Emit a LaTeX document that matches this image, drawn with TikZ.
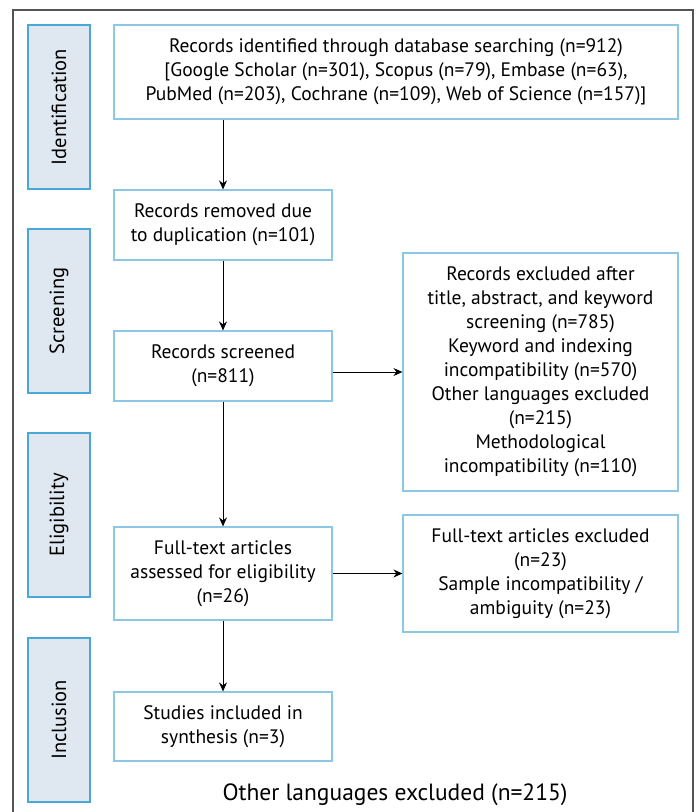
\documentclass[tikz,border=0pt]{standalone}
\usepackage{fontspec}
\setmainfont{PT Sans}
\usepackage{tikz}
\usetikzlibrary{arrows.meta}
\definecolor{stageblue}{HTML}{4AA8D8}
\definecolor{stagefill}{HTML}{DFE7F0}
\definecolor{boxblue}{HTML}{8CC8E4}
\definecolor{framegray}{HTML}{555555}

\begin{document}
\begin{tikzpicture}[x=1pt, y=-1pt,
  stage/.style={draw=stageblue, line width=1.2pt, fill=stagefill, rotate=90,
    minimum width=164pt, minimum height=62pt, inner sep=0pt,
    font=\fontsize{20.5}{24}\selectfont},
  flowbox/.style={draw=boxblue, line width=1.2pt, align=center, inner sep=0pt,
    font=\fontsize{19.5}{24}\selectfont},
  flowarrow/.style={draw=black, line width=0.8pt, -{Stealth[length=9pt,width=8pt,inset=3pt]}}]
\useasboundingbox (0,0) rectangle (696,812);

% Outer frame (open at the bottom)
\draw[framegray, line width=1.5pt] (13,812) -- (13,10) -- (693,10) -- (693,812);

% Stage labels
\node[stage] (identification) at (59,107) {Identification};
\node[stage] (screening) at (59,311) {Screening};
\node[stage] (eligibility) at (59,515) {Eligibility};
\node[stage] (inclusion) at (59,720) {Inclusion};

% Main flow
\node[flowbox, minimum width=564pt, minimum height=94pt] (search) at (396,72)
  {Records identified through database searching (n=912)\\
   {[}Google Scholar (n=301), Scopus (n=79), Embase (n=63),\\
   PubMed (n=203), Cochrane (n=109), Web of Science (n=157)]};
\node[flowbox, minimum width=218pt, minimum height=70pt] (duplicates) at (223,225)
  {Records removed due\\to duplication (n=101)};
\node[flowbox, minimum width=218pt, minimum height=70pt] (screened) at (223,366)
  {Records screened\\(n=811)};
\node[flowbox, minimum width=218pt, minimum height=93pt] (fulltext) at (223,573.5)
  {Full-text articles\\assessed for eligibility\\(n=26)};
\node[flowbox, minimum width=218pt, minimum height=69pt] (included) at (223,726.5)
  {Studies included in\\synthesis (n=3)};

% Exclusions
\node[flowbox, minimum width=275pt, minimum height=238pt] (excluded) at (540.5,372)
  {Records excluded after\\title, abstract, and keyword\\screening (n=785)\\
   Keyword and indexing\\incompatibility (n=570)\\Other languages excluded\\(n=215)\\
   Methodological\\incompatibility (n=110)};
\node[flowbox, minimum width=275pt, minimum height=117pt] (ftexcluded) at (540.5,573.5)
  {Full-text articles excluded\\(n=23)\\Sample incompatibility /\\ambiguity (n=23)};

% Footnote
\node[font=\fontsize{23.5}{26}\selectfont] (note) at (395,795) {Other languages excluded (n=215)};

% Arrows
\draw[flowarrow] (search.south -| duplicates.north) -- (duplicates.north);
\draw[flowarrow] (duplicates) -- (screened);
\draw[flowarrow] (screened) -- (fulltext);
\draw[flowarrow] (fulltext) -- (included);
\draw[flowarrow] (excluded.west -| screened.east) -- (excluded.west);
\draw[flowarrow] (fulltext) -- (ftexcluded);
\end{tikzpicture}
\end{document}
